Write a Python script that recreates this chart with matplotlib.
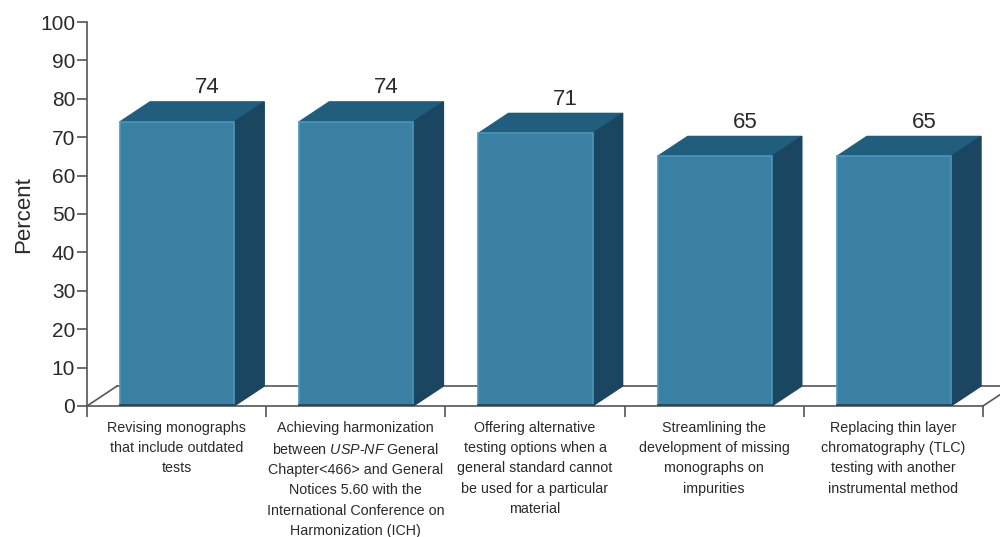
import matplotlib.pyplot as plt
from matplotlib.patches import Polygon

plt.rcParams['font.family'] = ['Liberation Sans', 'DejaVu Sans']
plt.rcParams['mathtext.fontset'] = 'custom'
plt.rcParams['mathtext.it'] = 'Liberation Sans:italic'
plt.rcParams['mathtext.rm'] = 'Liberation Sans'

categories = [
    "Revising monographs\nthat include outdated\ntests",
    "Achieving harmonization\nbetween $\\it{USP}$-$\\it{NF}$ General\nChapter<466> and General\n"
    "Notices 5.60 with the\nInternational Conference on\nHarmonization (ICH)",
    "Offering alternative\ntesting options when a\ngeneral standard cannot\nbe used for a particular\nmaterial",
    "Streamlining the\ndevelopment of missing\nmonographs on\nimpurities",
    "Replacing thin layer\nchromatography (TLC)\ntesting with another\ninstrumental method",
]
values = [74, 74, 71, 65, 65]

front_c = '#3a80a2'
top_c = '#215e7e'
side_c = '#1a4662'
axis_c = '#555555'
text_c = '#2a2a2a'

# 3d look: depth offsets in data units
off = 0.184
w = 0.637
dx = 0.168
dy = 5.2

fig = plt.figure(figsize=(10, 5.37), dpi=100)
ax = fig.add_axes([0.087, 0.244, 0.896, 0.715])
ax.set_xlim(0, 5)
ax.set_ylim(0, 100)

# floor
n = len(values)
ax.plot([0, dx], [0, dy], color=axis_c, lw=1.2, clip_on=False, zorder=1)
ax.plot([n, n + dx], [0, dy], color=axis_c, lw=1.2, clip_on=False, zorder=1)
ax.plot([dx, n + dx + 0.2], [dy, dy], color=axis_c, lw=1.2, clip_on=False, zorder=1)

for i, v in enumerate(values):
    x0 = i + off
    x1 = x0 + w
    ax.bar(x0, v, width=w, align='edge', color=front_c, edgecolor='#4b97ba',
           linewidth=1.2, zorder=3)
    top = Polygon([[x0, v], [x1, v], [x1 + dx, v + dy], [x0 + dx, v + dy]],
                  closed=True, facecolor=top_c, edgecolor=top_c, lw=1, zorder=2)
    side = Polygon([[x1, 0], [x1 + dx, dy], [x1 + dx, v + dy], [x1, v]],
                   closed=True, facecolor=side_c, edgecolor=side_c, lw=1, zorder=2)
    ax.add_patch(top)
    ax.add_patch(side)
    ax.plot([x0, x1], [0.3, 0.3], color='#1d4a66', lw=2, zorder=4)
    ax.text(x0 + w / 2 + dx, v + dy + 2.3, str(v), ha='center', va='baseline',
            fontsize=16, color=text_c)

for s in ['top', 'right']:
    ax.spines[s].set_visible(False)
for s in ['left', 'bottom']:
    ax.spines[s].set_color(axis_c)
    ax.spines[s].set_linewidth(1.2)

ax.set_yticks(range(0, 101, 10))
ax.tick_params(axis='y', direction='out', length=7, width=1.2, color=axis_c,
               labelsize=15, labelcolor=text_c, pad=1.5)
ax.set_xticks(range(0, n + 1))
ax.set_xticklabels([''] * (n + 1))
ax.tick_params(axis='x', which='major', direction='out', length=8, width=1.2, color=axis_c)
ax.set_xticks([i + 0.5 for i in range(n)], minor=True)
ax.set_xticklabels(categories, minor=True, fontsize=10.3, color=text_c, linespacing=1.58)
ax.tick_params(axis='x', which='minor', length=0, pad=10.5)

fig.text(0.024, 1 - 215 / 537, 'Percent', rotation=90, ha='center', va='center',
         fontsize=16, color=text_c)

fig.savefig('out.png', dpi=100)
